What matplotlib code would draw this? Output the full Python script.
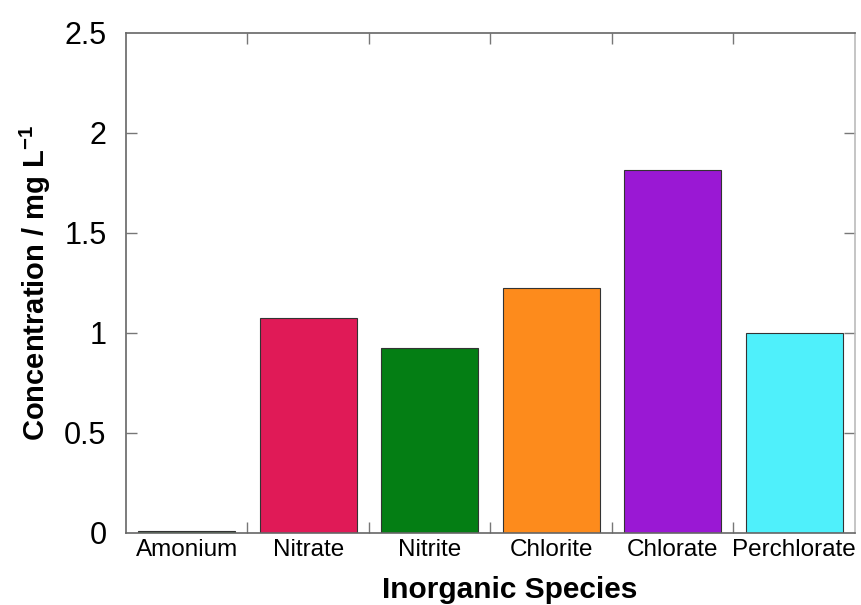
import numpy as np
import matplotlib
matplotlib.use("Agg")
import matplotlib.pyplot as plt

plt.rcParams['font.family'] = ['Liberation Sans', 'DejaVu Sans']
plt.rcParams['mathtext.default'] = 'regular'

species = ["Amonium", "Nitrate", "Nitrite", "Chlorite", "Chlorate", "Perchlorate"]
conc = [0.01, 1.075, 0.925, 1.225, 1.815, 1.0]
colors = ["#1f6b2a", "#e01a57", "#047e14", "#fd8b1c", "#9a18d4", "#4ff0fb"]
y_ticks = [0, 0.5, 1, 1.5, 2, 2.5]
y_tick_labels = ["0", "0.5", "1", "1.5", "2", "2.5"]

fig = plt.figure(figsize=(8.62, 6.05), dpi=100)
ax = fig.add_axes([126/862, 1 - 533/605, 729/862, 500/605])

x = np.arange(len(species))
ax.bar(x, conc, width=0.8, color=colors, edgecolor="#333333", linewidth=0.8)

ax.set_xlim(-0.5, len(species) - 0.5)
ax.set_ylim(0, 2.5)

ax.set_xticks(x)
ax.set_xticklabels(species, fontsize=17.5)
ax.set_xticks(x[:-1] + 0.5, minor=True)
ax.tick_params(axis='x', which='major', length=0, pad=4)
ax.tick_params(axis='x', which='minor', direction='in', length=8, top=True,
               bottom=True, color="#777777", width=1)

ax.set_yticks(y_ticks)
ax.set_yticklabels(y_tick_labels, fontsize=22)
ax.tick_params(axis='y', direction='in', length=8, left=True, right=True,
               color="#777777", width=1, pad=14)
# hide ticks at the ends
for t in ax.yaxis.get_major_ticks()[::len(y_ticks) - 1]:
    t.tick1line.set_visible(False)
    t.tick2line.set_visible(False)

for s in ax.spines.values():
    s.set_color("#666666")
    s.set_linewidth(1.2)
ax.spines['right'].set_color("#bbbbbb")

ax.set_xlabel("Inorganic Species", fontsize=21.5, fontweight="bold")
ax.xaxis.set_label_coords(0.527, -0.086)
ax.set_ylabel("Concentration / mg L$^{-1}$", fontsize=21, fontweight="bold", labelpad=8)

fig.savefig("out.png", dpi=100)
